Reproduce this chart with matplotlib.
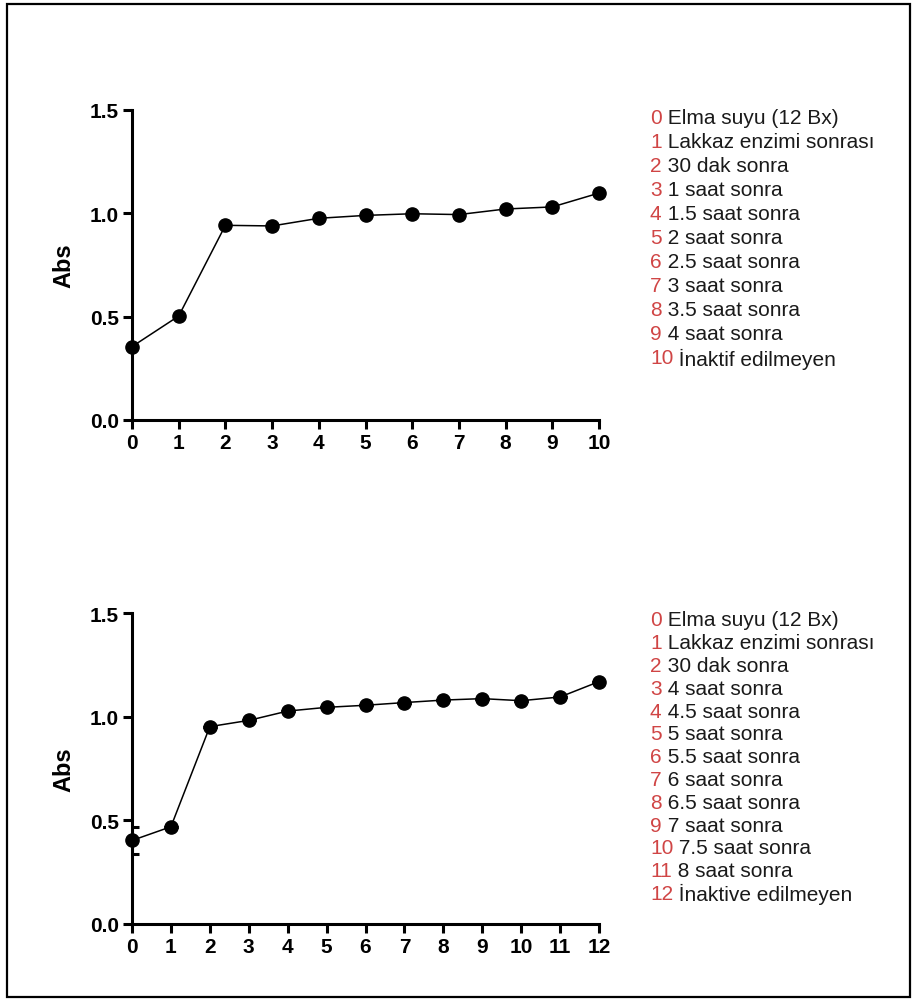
import matplotlib
matplotlib.use("Agg")
import matplotlib.pyplot as plt
from matplotlib.patches import Rectangle

plt.rcParams['font.family'] = ['Liberation Sans', 'DejaVu Sans']

# top panel: 0..10
top_x = list(range(11))
top_abs = [0.355, 0.503, 0.942, 0.939, 0.976, 0.990, 0.998, 0.994, 1.021, 1.031, 1.098]
top_labels = ["Elma suyu (12 Bx)", "Lakkaz enzimi sonrası", "30 dak sonra", "1 saat sonra",
              "1.5 saat sonra", "2 saat sonra", "2.5 saat sonra", "3 saat sonra",
              "3.5 saat sonra", "4 saat sonra", "İnaktif edilmeyen"]

# bottom panel: 0..12
bot_x = list(range(13))
bot_abs = [0.403, 0.469, 0.952, 0.982, 1.027, 1.045, 1.055, 1.068, 1.080, 1.087, 1.077, 1.095, 1.169]
bot_err = [0.063, 0, 0, 0, 0, 0, 0, 0, 0, 0, 0, 0, 0]
bot_labels = ["Elma suyu (12 Bx)", "Lakkaz enzimi sonrası", "30 dak sonra", "4 saat sonra",
              "4.5 saat sonra", "5 saat sonra", "5.5 saat sonra", "6 saat sonra",
              "6.5 saat sonra", "7 saat sonra", "7.5 saat sonra", "8 saat sonra",
              "İnaktive edilmeyen"]

RED = "#d04545"
W, H = 917, 1003
fig = plt.figure(figsize=(W / 100, H / 100), dpi=100)

# outer frame
fig.patches.append(Rectangle((7 / W, 5 / H), (910 - 7) / W, (998 - 5) / H,
                             transform=fig.transFigure, fill=False,
                             edgecolor="black", linewidth=1.6))


def panel(rect, xs, ys, err, labels, leg_top, leg_step):
    ax = fig.add_axes(rect)
    if err is not None:
        # clipped at the axis so only the right half of the caps shows
        ax.errorbar(xs, ys, yerr=err, fmt="none", ecolor="black",
                    elinewidth=2.2, capsize=5, capthick=2.2, zorder=2)
    ax.plot(xs, ys, color="black", lw=1.1, marker="o", ms=9.5,
            clip_on=False, zorder=3)
    ax.set_xlim(0, xs[-1])
    ax.set_ylim(0, 1.5)
    ax.set_xticks(xs)
    ax.set_yticks([0.0, 0.5, 1.0, 1.5])
    ax.set_yticklabels(["0.0", "0.5", "1.0", "1.5"])
    for s in ["top", "right"]:
        ax.spines[s].set_visible(False)
    for s in ["left", "bottom"]:
        ax.spines[s].set_linewidth(2.2)
    ax.tick_params(width=2.2, length=6.5, labelsize=15, pad=3)
    for t in ax.get_xticklabels() + ax.get_yticklabels():
        t.set_fontweight("bold")
    ax.set_ylabel("Abs", fontsize=17, fontweight="bold", labelpad=10)

    for i, lab in enumerate(labels):
        y = 1 - (leg_top + i * leg_step) / H
        num = fig.text(650 / W, y, str(xs[i]), color=RED, fontsize=15, va="center")
        ax.annotate(" " + lab, xy=(1, 0.5), xycoords=num, va="center", ha="left",
                    fontsize=15, color="#1a1a1a", annotation_clip=False)
    return ax


panel([132 / W, 1 - 421 / H, (599 - 132) / W, (421 - 111) / H],
      top_x, top_abs, None, top_labels, 119, 24)
panel([132 / W, 1 - 925 / H, (599 - 132) / W, (925 - 614) / H],
      bot_x, bot_abs, bot_err, bot_labels, 621, 22.8)

fig.savefig("out.png", dpi=100)
